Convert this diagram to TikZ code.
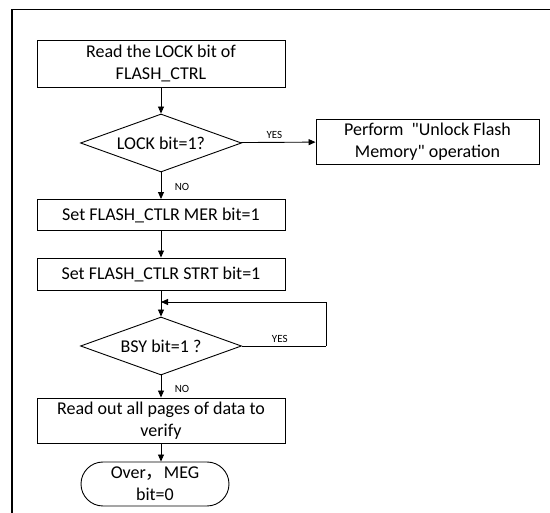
\documentclass[tikz,border=0pt]{standalone}
\usepackage{fontspec}
\setmainfont{Carlito}[Ligatures=TeXOff]
\newfontfamily\cjk{Noto Sans CJK SC}
\newcommand{\mainsz}{\fontsize{18pt}{22pt}\selectfont}
\newcommand{\lblsz}{\fontsize{11pt}{13pt}\selectfont}
\usetikzlibrary{shapes.geometric,shapes.misc,arrows.meta}
\begin{document}
\begin{tikzpicture}[x=1pt,y=-1pt,
  procbox/.style={draw,line width=0.9pt,rectangle,minimum width=248pt,align=center,inner sep=1pt,font=\mainsz},
  decbox/.style={draw,line width=0.9pt,diamond,aspect=2.8,minimum width=161pt,minimum height=58pt,inner sep=0pt,font=\mainsz},
  termbox/.style={draw,line width=0.9pt,rounded rectangle,minimum width=148pt,minimum height=44pt,align=center,inner sep=0pt,font=\mainsz},
  conn/.style={line width=0.9pt,-{Triangle[length=7pt,width=6pt]}},
  lbl/.style={font=\lblsz}]
\useasboundingbox (0,0) rectangle (550,513);
\draw[line width=1.6pt] (12,513) -- (12,9.5) -- (550,9.5);
\node[procbox,minimum height=47pt] (read) at (161,63.5) {Read the LOCK bit of\\FLASH\_CTRL};
\node[decbox] (lock) at (161,143) {LOCK bit=1?};
\node[procbox,minimum width=223pt,minimum height=45pt] (unlock) at (427.5,141.5) {Perform \ "Unlock Flash\\Memory" operation};
\node[procbox,minimum height=31pt] (mer) at (161,215) {Set FLASH\_CTLR MER bit=1};
\node[procbox,minimum height=32pt] (strt) at (161,274) {Set FLASH\_CTLR STRT bit=1};
\node[decbox] (bsy) at (161,346) {BSY bit=1 ?};
\node[procbox,minimum height=45pt] (verify) at (161,420.5) {Read out all pages of data to\\verify};
\node[termbox] (over) at (155,484) {Over{\cjk ，}MEG\\bit=0};
\coordinate (loopr) at (326,346);
\coordinate (loopt) at (326,302);
\coordinate (loopin) at (161,302);
\draw[conn] (read) -- (lock);
\draw[conn] (lock) -- node[lbl,pos=0.45,above]{YES} (unlock);
\draw[conn] (lock) -- node[lbl,right=10pt,pos=0.55]{NO} (mer);
\draw[conn] (mer) -- (strt);
\draw[conn] (strt) -- (bsy);
\draw[line width=0.9pt] (bsy.east) -- node[lbl,pos=0.45,above]{YES} (loopr);
\draw[conn] (loopr) -- (loopt) -- (loopin);
\draw[conn] (bsy) -- node[lbl,right=10pt,pos=0.6]{NO} (verify);
\draw[conn] (verify) -- (verify.south |- over.north);
\end{tikzpicture}
\end{document}
